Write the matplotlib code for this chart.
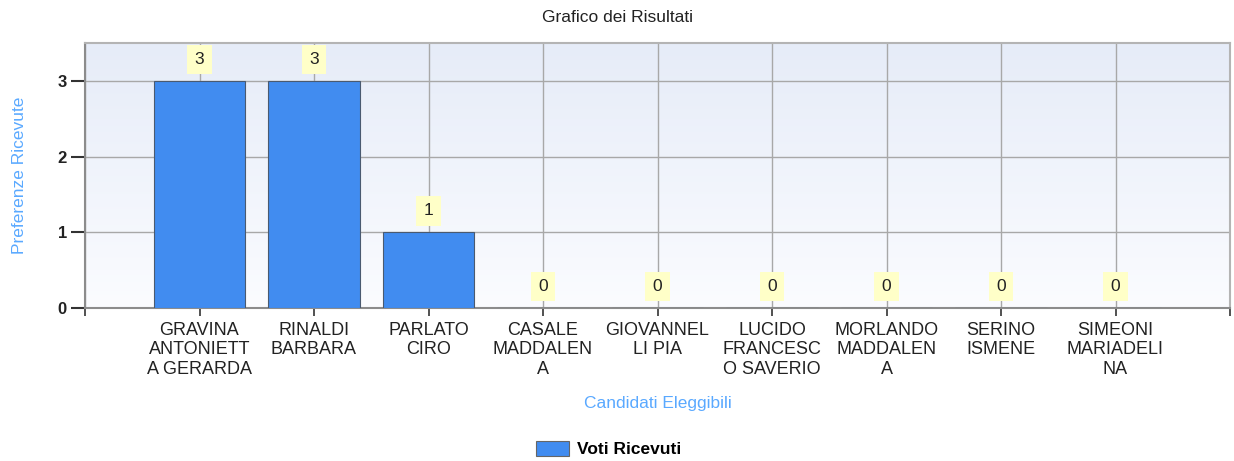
import matplotlib.pyplot as plt
import numpy as np
from matplotlib.colors import LinearSegmentedColormap

plt.rcParams['font.family'] = ['Liberation Sans', 'DejaVu Sans']

# dati del grafico
candidati = ['GRAVINA\nANTONIETT\nA GERARDA', 'RINALDI\nBARBARA', 'PARLATO\nCIRO',
             'CASALE\nMADDALEN\nA', 'GIOVANNEL\nLI PIA', 'LUCIDO\nFRANCESC\nO SAVERIO',
             'MORLANDO\nMADDALEN\nA', 'SERINO\nISMENE', 'SIMEONI\nMARIADELI\nNA']
voti = [3, 3, 1, 0, 0, 0, 0, 0, 0]
y_ticks = [0, 1, 2, 3]

bar_color = '#418CF0'
label_blue = '#5AA9FF'

fig = plt.figure(figsize=(12.34, 4.61), dpi=100)
ax = fig.add_axes([85 / 1234, 1 - 308 / 461, (1230 - 85) / 1234, (308 - 43) / 461])

x = np.arange(1, len(candidati) + 1)
ax.set_xlim(0, len(candidati) + 1)
ax.set_ylim(0, 3.5)

# sfondo sfumato (bianco in basso, azzurrino in alto)
grad = np.linspace(0, 1, 256).reshape(-1, 1)
cmap = LinearSegmentedColormap.from_list('bg', ['#FBFCFF', '#E6ECF8'])
ax.imshow(grad, cmap=cmap, aspect='auto', extent=[0, len(candidati) + 1, 0, 3.5],
          origin='lower', zorder=0)

bars = ax.bar(x, voti, width=0.8, color=bar_color, edgecolor='#4A5A70',
              linewidth=0.8, zorder=3, label='Voti Ricevuti')

for xi, v in zip(x, voti):
    ax.annotate(str(v), (xi, v), xytext=(0, 10), textcoords='offset points',
                ha='center', va='bottom', fontsize=12.5, color='#222222', zorder=5,
                bbox=dict(boxstyle='square,pad=0.42', fc='#FFFFC8', ec='none'))

ax.set_xticks(np.arange(0, len(candidati) + 2))
ax.set_xticklabels([''] + candidati + [''], fontsize=13, color='#222222',
                   linespacing=1.2)
ax.set_yticks(y_ticks)
ax.set_yticklabels([str(t) for t in y_ticks], fontsize=12, fontweight='bold',
                   color='#222222')
ax.tick_params(axis='x', length=6, width=1.2, color='#333333', pad=4)
ax.tick_params(axis='y', length=10, width=1.5, color='#333333', pad=3)

ax.grid(True, color='#A8A8A8', linewidth=1, zorder=1)
ax.set_axisbelow(True)
for side in ['top', 'right']:
    ax.spines[side].set_color('#B4B4B4')
    ax.spines[side].set_linewidth(1.5)
for side in ['left', 'bottom']:
    ax.spines[side].set_color('#8C8C8C')
    ax.spines[side].set_linewidth(1.5)

ax.set_xlabel('Candidati Eleggibili', fontsize=12.5, color=label_blue, labelpad=13)
ax.set_ylabel('Preferenze Ricevute', fontsize=12.5, color=label_blue, labelpad=22)
fig.text(0.5, 1 - 17 / 461, 'Grafico dei Risultati', ha='center', va='center',
         fontsize=12.5, color='#222222')

fig.legend(handles=[bars], loc='center', bbox_to_anchor=(609 / 1234, 1 - 449 / 461),
           frameon=False, handlelength=1.9, handleheight=1.0, handletextpad=0.45,
           prop={'weight': 'bold', 'size': 12.5})
for p in fig.legends[0].get_patches():
    p.set_edgecolor('#666666')

fig.savefig('out.png', dpi=100)
